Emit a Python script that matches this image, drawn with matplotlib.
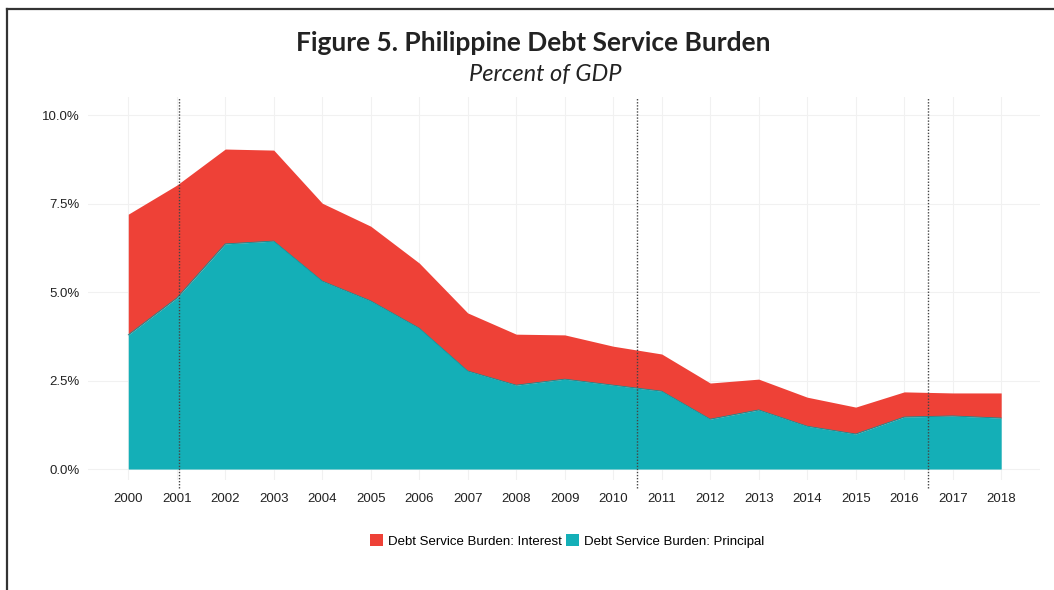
import matplotlib.pyplot as plt
from matplotlib.lines import Line2D
from matplotlib.ticker import FuncFormatter

# ------------------------------------------------------------------------------

years = list(range(2000, 2019))
principal = [3.79, 4.83, 6.36, 6.44, 5.31, 4.75, 3.98, 2.77, 2.37, 2.54,
             2.37, 2.20, 1.41, 1.67, 1.21, 0.99, 1.47, 1.50, 1.44]
total = [7.20, 8.02, 9.04, 9.01, 7.51, 6.86, 5.82, 4.41, 3.81, 3.79,
         3.47, 3.25, 2.43, 2.54, 2.03, 1.75, 2.18, 2.15, 2.15]
breaks = [2001.05, 2010.5, 2016.5]

red = "#EE4137"
teal = "#14AFB7"

fig = plt.figure(figsize=(10.54, 5.9), dpi=100)
ax = fig.add_axes([0.0835, 0.1864, 0.9032, 0.6492])

ax.fill_between(years, principal, total, color=red, lw=0,
                label="Debt Service Burden: Interest")
ax.fill_between(years, 0, principal, color=teal, lw=0,
                label="Debt Service Burden: Principal")
ax.plot(years, principal, color="#0f8f96", lw=0.6)

for b in breaks:
  ax.axvline(b, ymin=-0.022, ymax=1, color="#444444", ls=(0, (1, 1.2)),
             lw=1.0, clip_on=False, zorder=5)

ax.set_xlim(2000 - 0.83, 2018 + 0.8)
ax.set_ylim(-0.31, 10.51)
ax.set_xticks(years)
ax.set_yticks([0, 2.5, 5, 7.5, 10])
ax.yaxis.set_major_formatter(FuncFormatter(lambda v, p: "%.1f%%" % v))
ax.grid(True, color="#f1f1f1", lw=0.8)
ax.set_axisbelow(True)
for s in ax.spines.values():
  s.set_visible(False)
ax.tick_params(length=0, labelsize=9.5, labelcolor="#222222")
ax.tick_params(axis="x", pad=9)
ax.tick_params(axis="y", pad=6)
for lab in ax.get_xticklabels() + ax.get_yticklabels():
  lab.set_family("Liberation Sans")

h, l = ax.get_legend_handles_labels()
fig.legend(h, l, loc="center", bbox_to_anchor=(567 / 1054, 1 - 541 / 590),
           ncol=2, frameon=False, handlelength=1.0, handleheight=1.0,
           handletextpad=0.35, columnspacing=0.35,
           prop={"family": "Liberation Sans", "size": 9.5})

fig.text(533 / 1054, 1 - 43 / 590, "Figure 5. Philippine Debt Service Burden",
         ha="center", va="center", fontsize=19, weight="bold",
         family="Lato", color="#222222")
fig.text(545 / 1054, 1 - 74 / 590, "Percent of GDP", ha="center", va="center",
         fontsize=17, style="italic", family="Lato", color="#222222")

# frame around the figure
fig.add_artist(Line2D([7 / 1054, 7 / 1054], [0, 1 - 9 / 590],
                      transform=fig.transFigure, color="#333333", lw=1.6))
fig.add_artist(Line2D([7 / 1054, 1], [1 - 9 / 590, 1 - 9 / 590],
                      transform=fig.transFigure, color="#333333", lw=1.6))

plt.savefig("out.png", dpi=100)
